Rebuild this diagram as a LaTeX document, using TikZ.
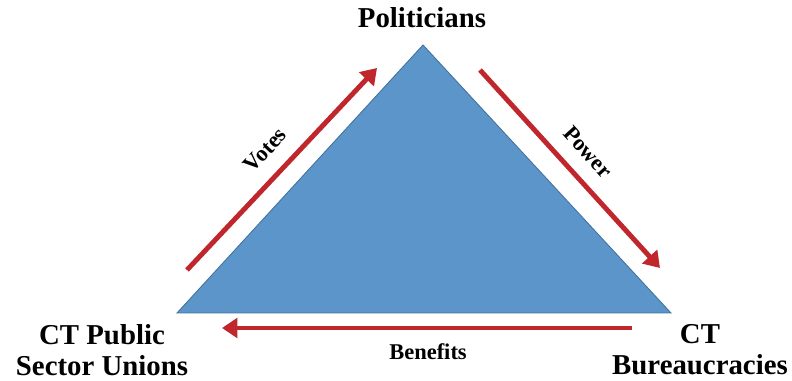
\documentclass[tikz,border=0pt]{standalone}
\usepackage{fontspec}
\setmainfont{Liberation Serif}
\usetikzlibrary{arrows.meta}
\definecolor{triBlue}{HTML}{5B95CA}
\definecolor{triEdge}{HTML}{41719C}
\definecolor{flowRed}{HTML}{C0272D}

\begin{document}
\begin{tikzpicture}
  \useasboundingbox (0,0) rectangle (19.8,9.525);
  \tikzset{
    actor/.style={font=\fontsize{20.5}{22}\selectfont\bfseries, align=center},
    flowlabel/.style={font=\fontsize{16}{18}\selectfont\bfseries},
    flow/.style={flowRed, line width=3.5pt, -{Triangle[length=11pt, width=14pt]}}
  }
  % the triangle itself
  \filldraw[fill=triBlue, draw=triEdge, line width=0.6pt] (4.425,1.7) -- (10.575,8.4) -- (16.775,1.7) -- cycle;
  % the three parties
  \node[actor] (pol) at (10.55,9.075) {Politicians};
  \node[actor] (unions) at (2.55,0.775) {CT Public\\Sector Unions};
  \node[actor] (bur) at (17.5,0.775) {CT\\Bureaucracies};
  % arrow end points
  \coordinate (votesA) at (4.675,2.775);
  \coordinate (votesB) at (9.425,7.825);
  \coordinate (powerA) at (12.0,7.775);
  \coordinate (powerB) at (16.5,2.825);
  \coordinate (benA) at (15.8,1.325);
  \coordinate (benB) at (5.55,1.325);
  \draw[flow] (votesA) -- (votesB);
  \draw[flow] (powerA) -- (powerB);
  \draw[flow] (benA) -- (benB);
  % what flows along each side
  \node[flowlabel, rotate=47] (votes) at (6.625,5.775) {Votes};
  \node[flowlabel, rotate=-47.7] (power) at (14.7,5.725) {Power};
  \node[flowlabel] (benefits) at (10.7,0.725) {Benefits};
\end{tikzpicture}
\end{document}
